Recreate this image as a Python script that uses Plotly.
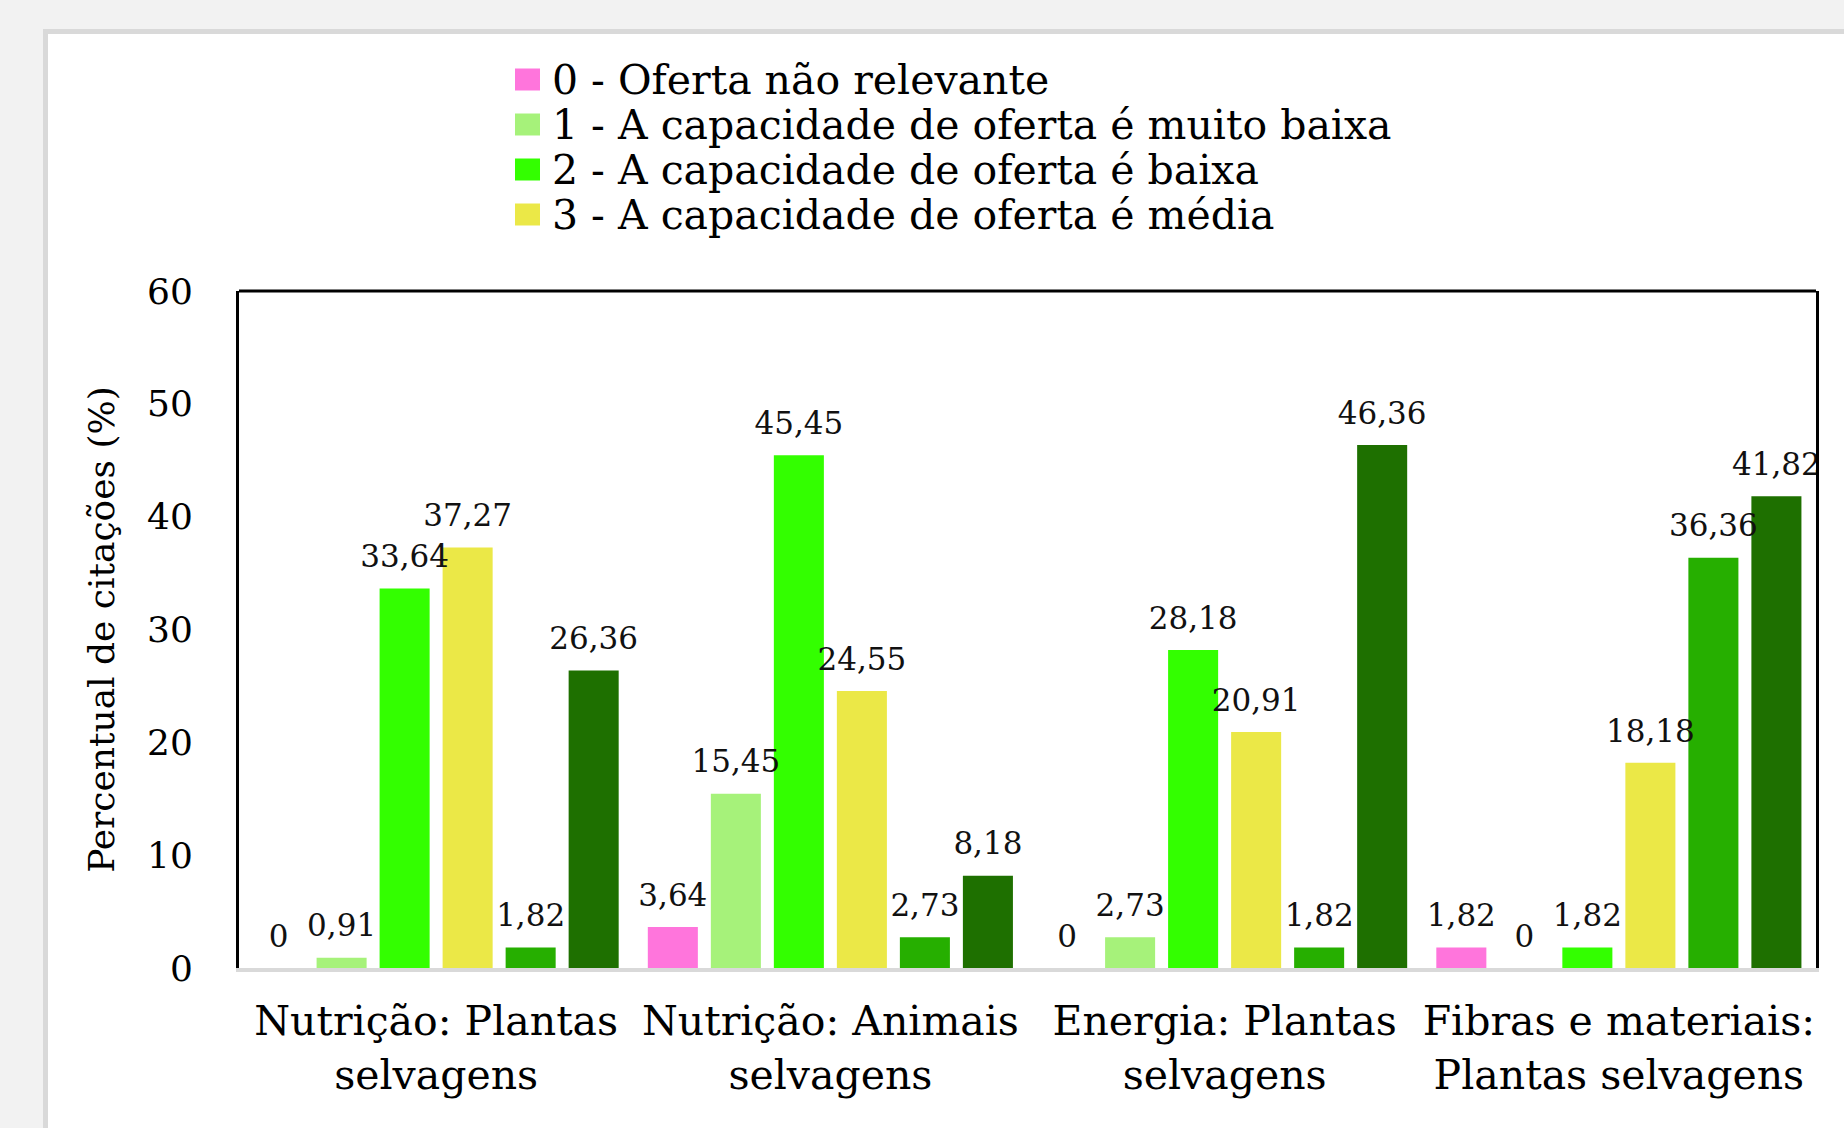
import plotly.graph_objects as go

# ---------------- data ----------------
CATEGORIES = [
    "Nutrição: Plantas<br>selvagens",
    "Nutrição: Animais<br>selvagens",
    "Energia: Plantas<br>selvagens",
    "Fibras e materiais:<br>Plantas selvagens",
]
SERIES_NAMES = [
    "0 - Oferta não relevante",
    "1 - A capacidade de oferta é muito baixa",
    "2 - A capacidade de oferta é baixa",
    "3 - A capacidade de oferta é média",
    "4 - A capacidade de oferta é alta",
    "5 - A capacidade de oferta é muito alta",
]
S0 = [0, 3.64, 0, 1.82]
S1 = [0.91, 15.45, 2.73, 0]
S2 = [33.64, 45.45, 28.18, 1.82]
S3 = [37.27, 24.55, 20.91, 18.18]
S4 = [1.82, 2.73, 1.82, 36.36]
S5 = [26.36, 8.18, 46.36, 41.82]
SERIES_VALUES = [S0, S1, S2, S3, S4, S5]
COLORS = ["#FF75DC", "#A6F27A", "#33FF00", "#EBE847", "#26AF00", "#1E7000"]
LEGEND_VISIBLE = 4
Y_TICKS = [0, 10, 20, 30, 40, 50, 60]
Y_TITLE = "Percentual de citações (%)"

FONT = "DejaVu Serif"
W, H = 1844, 1128
L, R, T, B = 239, 28, 291, 160
PW, PH = W - L - R, H - T - B


def px_x(p):
    return (p - L) / PW


def px_y(p):
    return (H - B - p) / PH


def fmt(v):
    return "0" if v == 0 else f"{v:.2f}".replace(".", ",")


fig = go.Figure()
for name, vals, col in zip(SERIES_NAMES, SERIES_VALUES, COLORS):
    fig.add_trace(go.Bar(x=CATEGORIES, y=vals, name=name, marker_color=col,
                         marker_line_width=0, showlegend=False))
for name, vals in zip(SERIES_NAMES, SERIES_VALUES):
    fig.add_trace(go.Scatter(x=CATEGORIES, y=vals, name=name, mode="markers+text",
                             marker=dict(size=20, opacity=0),
                             text=[fmt(v) for v in vals], textposition="top center",
                             textfont=dict(family=FONT, size=31, color="#111"),
                             showlegend=False, cliponaxis=False, hoverinfo="skip"))

shapes = [
    # white panel with light border
    dict(type="rect", xref="paper", yref="paper", layer="below",
         x0=px_x(45.5), x1=px_x(W + 20), y0=px_y(H + 20), y1=px_y(31.5),
         fillcolor="white", line=dict(color="#D9D9D9", width=5)),
    # top frame line
    dict(type="line", xref="paper", yref="paper", x0=0, x1=1, y0=1, y1=1,
         line=dict(color="black", width=3)),
]
annotations = []
for i in range(LEGEND_VISIBLE):
    cy = 79.5 + 45 * i
    shapes.append(dict(type="rect", xref="paper", yref="paper",
                       x0=px_x(515), x1=px_x(540), y0=px_y(cy + 11), y1=px_y(cy - 11),
                       fillcolor=COLORS[i], line=dict(width=0)))
    annotations.append(dict(xref="paper", yref="paper", x=px_x(550), y=px_y(cy),
                            xanchor="left", yanchor="middle", showarrow=False,
                            text=SERIES_NAMES[i],
                            font=dict(family=FONT, size=41, color="black")))

fig.update_layout(
    width=W, height=H,
    margin=dict(l=L, r=R, t=T, b=B, autoexpand=False),
    paper_bgcolor="#F2F2F2",
    plot_bgcolor="rgba(0,0,0,0)",
    barmode="group", bargap=0.041, bargroupgap=0.206,
    scattermode="group", scattergap=0.041,
    showlegend=False,
    shapes=shapes, annotations=annotations,
    font=dict(family=FONT, color="black"),
    xaxis=dict(showline=True, linecolor="#D9D9D9", linewidth=4, showgrid=False,
               ticks="", ticklabelstandoff=14,
               tickfont=dict(family=FONT, size=41, color="black"),
               automargin=False),
    yaxis=dict(range=[0, 60], tickvals=Y_TICKS, showgrid=False, zeroline=False,
               showline=True, linecolor="black", linewidth=3, mirror=True,
               ticks="", ticklabelstandoff=36,
               tickfont=dict(family=FONT, size=36, color="black"),
               title=dict(text=Y_TITLE, standoff=22,
                          font=dict(family=FONT, size=36, color="black")),
               automargin=False),
)

fig.write_html(
    "out.html",
    config={"displayModeBar": False},
    post_script="document.body.style.margin='0px';"
                "document.body.style.background='#F2F2F2';",
)
